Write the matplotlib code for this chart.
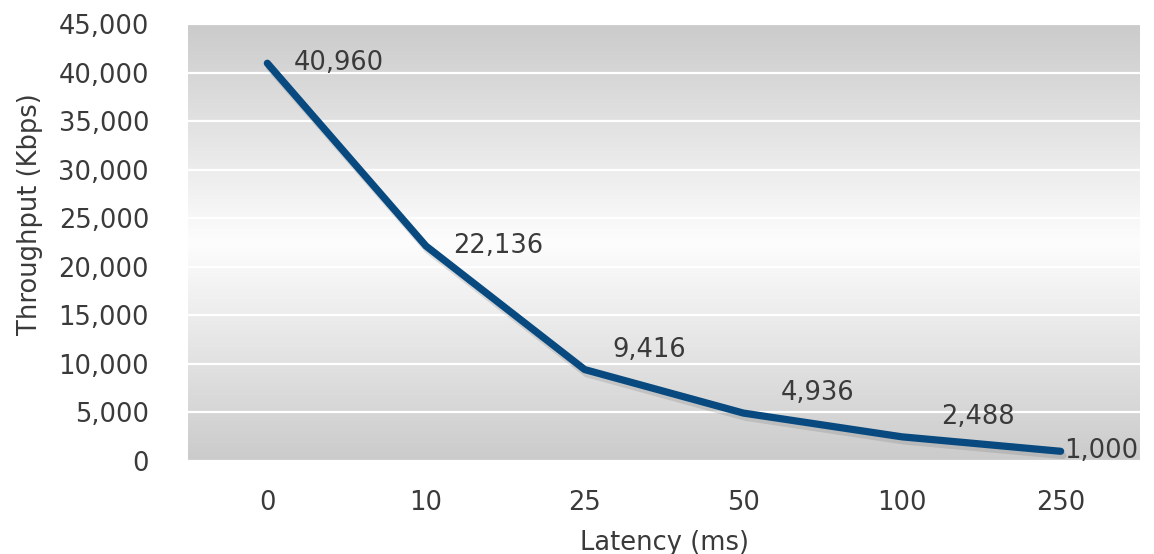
import matplotlib
matplotlib.use("Agg")
import matplotlib.pyplot as plt
import matplotlib.patheffects as pe
import numpy as np
from matplotlib.colors import LinearSegmentedColormap
from matplotlib.ticker import FuncFormatter

# latency steps (categorical) and measured throughput
latency = ["0", "10", "25", "50", "100", "250"]
throughput = [40960, 22136, 9416, 4936, 2488, 1000]

# label offsets (px) relative to each point
label_dx = [26, 27, 28, 37, 39, 3]
label_dy = [0, 0, 20, 20, 20, 0]

TEXT = "#3a3a3a"
LINE = "#084a80"

plt.rcParams["font.family"] = ["DejaVu Sans"]
plt.rcParams["font.size"] = 18.5

fig = plt.figure(figsize=(11.54, 5.54), dpi=100)
ax = fig.add_axes([188 / 1154, 1 - 461 / 554, (1140 - 188) / 1154, (461 - 24) / 554])

x = np.arange(len(latency))
ax.set_xlim(-0.5, len(latency) - 0.5)
ax.set_ylim(0, 45000)

# vertical grey -> white -> grey gradient fill
cmap = LinearSegmentedColormap.from_list(
    "bg", [(0.0, "#cbcbcb"), (0.5, "#fdfdfd"), (1.0, "#cbcbcb")])
grad = np.linspace(0, 1, 256).reshape(-1, 1)
ax.imshow(grad, extent=[-0.5, len(latency) - 0.5, 0, 45000], aspect="auto",
          cmap=cmap, origin="upper", zorder=0, interpolation="bicubic")

ax.set_yticks(np.arange(0, 45001, 5000))
ax.yaxis.set_major_formatter(FuncFormatter(lambda v, p: f"{int(v):,}"))
ax.set_xticks(x)
ax.set_xticklabels(latency)
ax.grid(axis="y", color="white", linewidth=1.6, zorder=1)
ax.set_axisbelow(False)
for s in ax.spines.values():
    s.set_visible(False)
ax.tick_params(length=0, colors=TEXT, labelsize=18.5)
ax.tick_params(axis="y", pad=28)
ax.tick_params(axis="x", pad=21)

ax.plot(x, throughput, color=LINE, linewidth=5.2, solid_capstyle="round",
        solid_joinstyle="round", zorder=3,
        path_effects=[pe.SimpleLineShadow(offset=(1.5, -3), shadow_color="#666666", alpha=0.2),
                      pe.Normal()])

for xi, yi, dx, dy in zip(x, throughput, label_dx, label_dy):
    ax.annotate(f"{yi:,}", (xi, yi), xytext=(dx * 0.72, dy * 0.72),
                textcoords="offset points", ha="left", va="center",
                color=TEXT, fontsize=18.5, zorder=4, annotation_clip=False)

ax.set_xlabel("Latency (ms)", color=TEXT, fontsize=18.5, labelpad=10)
fig.text(30 / 1154, 1 - 214 / 554, "Throughput (Kbps)", rotation=90,
         ha="center", va="center", color=TEXT, fontsize=18.5)

fig.savefig("out.png", dpi=100)
